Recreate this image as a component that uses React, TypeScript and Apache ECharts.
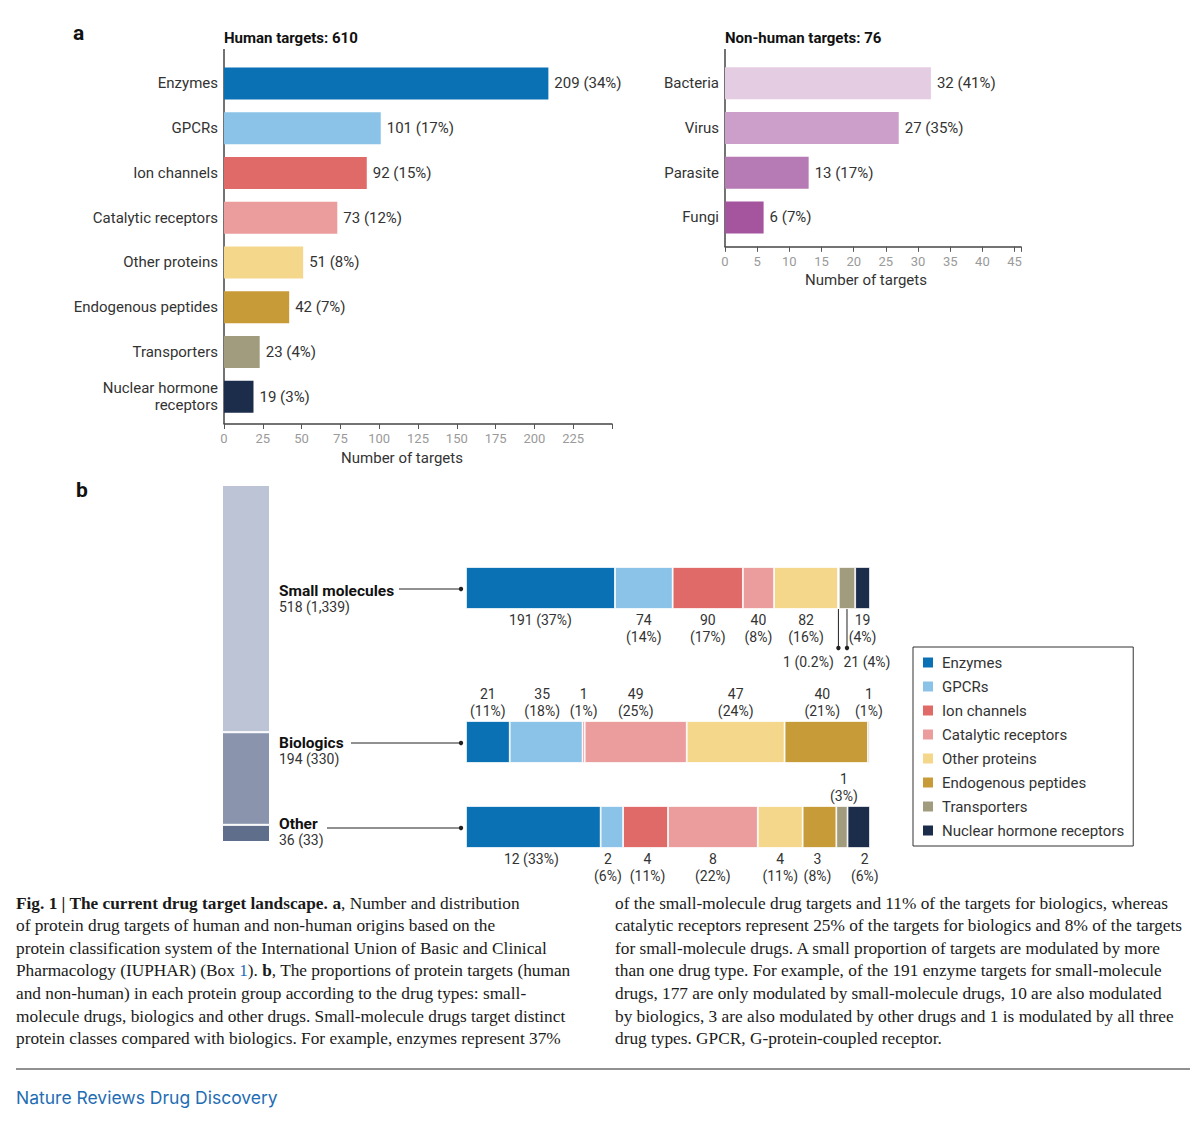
import React, { useEffect, useRef } from 'react';
import * as echarts from 'echarts';

// ---------- data ----------
const humanTotal = 610;
const humanCategories = ['Enzymes', 'GPCRs', 'Ion channels', 'Catalytic receptors', 'Other proteins', 'Endogenous peptides', 'Transporters', 'Nuclear hormone\nreceptors'];
const humanValues = [209, 101, 92, 73, 51, 42, 23, 19];
const humanPct = [34, 17, 15, 12, 8, 7, 4, 3];
const humanTickMax = 225;

const nonHumanTotal = 76;
const nonHumanCategories = ['Bacteria', 'Virus', 'Parasite', 'Fungi'];
const nonHumanValues = [32, 27, 13, 6];
const nonHumanPct = [41, 35, 17, 7];
const nonHumanTickMax = 45;

const proteinClasses = ['Enzymes', 'GPCRs', 'Ion channels', 'Catalytic receptors', 'Other proteins', 'Endogenous peptides', 'Transporters', 'Nuclear hormone receptors'];

const drugTypes = ['Small molecules', 'Biologics', 'Other'];
const drugTypeTargets = [518, 194, 36];
const drugTypeAll = [1339, 330, 33];

const smallValues = [191, 74, 90, 40, 82, 1, 21, 19];
const smallPct = [37, 14, 17, 8, 16, 0.2, 4, 4];
const bioValues = [21, 35, 1, 49, 47, 40, 1, 0];
const bioPct = [11, 18, 1, 25, 24, 21, 1, 0];
const otherValues = [12, 2, 4, 8, 4, 3, 1, 2];
const otherPct = [33, 6, 11, 22, 11, 8, 3, 6];

// ---------- styles ----------
const classColors = ['#0a71b4', '#8ac3e7', '#e06a68', '#eb9c9c', '#f4d78b', '#c89b39', '#a09c7d', '#1c2d4c'];
const nonHumanColors = ['#e4cce3', '#cc9fcb', '#b67ab4', '#a5549e'];
const columnColors = ['#bdc4d6', '#8a95ad', '#5f6e8b'];
const FONT = 'Roboto, "Noto Sans", sans-serif';
const SERIF = '"Liberation Serif", "DejaVu Serif", serif';
const INK = '#333';
const CAPTION_SIZE = 17.3;

// layout
const rowGrids = [
  { top: 567, height: 42 },
  { top: 721, height: 42 },
  { top: 806, height: 42 },
];
const rowLeft = 466;
const rowWidth = 404;
// label placement kinds per row: b1 = below single line, b2 = below two lines, a2 = above two lines, lead = leader line
const rowLabelKinds = [
  ['b1', 'b2', 'b2', 'b2', 'b2', 'lead', 'lead', 'b2'],
  ['a2', 'a2', 'a2', 'a2', 'a2', 'a2', 'a2', 'none'],
  ['b1', 'b2', 'b2', 'b2', 'b2', 'b2', 'a2', 'b2'],
];
const rowLabelShift = [
  [0, 0, 0, 0, 0, -30, 20, 0],
  [0, -4, 0, 0, 0, -4, 0, 0],
  [-2, -4, 2, 0, 0, -2, 2, 6],
];
const rowLabelY = [591, 743, 824];
const rowLineStart = [399, 351, 327];

const fmtPct = (p: number) => `${p}%`;

function buildOption() {
  const rows = [smallValues, bioValues, otherValues];
  const pcts = [smallPct, bioPct, otherPct];

  const grid: any[] = [
    { left: 224, top: 61, width: 388, height: 358 },
    { left: 725, top: 61, width: 296, height: 178.8 },
    { left: 222, top: 485, width: 48, height: 357 },
    ...rowGrids.map((g) => ({ left: rowLeft, top: g.top, width: rowWidth, height: g.height })),
  ];

  const valueAxisCommon = (gridIndex: number, max: number, interval: number, tickMax: number, offset: number, pad: number) => ({
    type: 'value',
    gridIndex,
    min: 0,
    max,
    interval,
    offset,
    splitLine: { show: false },
    axisLine: { show: true, lineStyle: { color: '#444', width: 1.5 } },
    axisTick: { show: true, length: 5, lineStyle: { color: '#555' } },
    axisLabel: {
      color: '#9a9a9a',
      fontSize: 13,
      fontFamily: FONT,
      margin: 8,
      formatter: (v: number) => (v > tickMax ? '' : String(v)),
    },
    name: 'Number of targets',
    nameLocation: 'middle',
    nameGap: 26,
    nameTextStyle: { color: INK, fontSize: 15, fontFamily: FONT, padding: [0, pad, 0, 0] },
  });

  const xAxis: any[] = [
    valueAxisCommon(0, 250, 25, humanTickMax, 5, 32),
    valueAxisCommon(1, 46, 5, nonHumanTickMax, 7, 14),
    { type: 'category', gridIndex: 2, data: ['all'], show: false },
    ...rows.map((r, i) => ({
      type: 'value',
      gridIndex: 3 + i,
      min: 0,
      max: r.reduce((a, b) => a + b, 0),
      show: false,
    })),
  ];

  const catAxisCommon = (gridIndex: number, data: string[]) => ({
    type: 'category',
    gridIndex,
    data,
    inverse: true,
    axisLine: { show: false },
    axisTick: { show: false },
    axisLabel: { color: INK, fontSize: 15, fontFamily: FONT, margin: 6, lineHeight: 17 },
  });

  const yAxis: any[] = [
    catAxisCommon(0, humanCategories),
    catAxisCommon(1, nonHumanCategories),
    { type: 'value', gridIndex: 2, min: 0, max: drugTypeTargets.reduce((a, b) => a + b, 0), show: false },
    ...rows.map((_, i) => ({ type: 'category', gridIndex: 3 + i, data: ['x'], show: false })),
  ];

  const series: any[] = [];
  series.push({
    type: 'bar',
    name: 'Human targets',
    xAxisIndex: 0,
    yAxisIndex: 0,
    barWidth: 32,
    data: humanValues.map((v, i) => ({ value: v, itemStyle: { color: classColors[i] } })),
    label: {
      show: true,
      position: 'right',
      distance: 6,
      color: INK,
      fontSize: 15,
      fontFamily: FONT,
      formatter: (p: any) => `${p.value} (${humanPct[p.dataIndex]}%)`,
    },
  });
  series.push({
    type: 'bar',
    name: 'Non-human targets',
    xAxisIndex: 1,
    yAxisIndex: 1,
    barWidth: 32,
    data: nonHumanValues.map((v, i) => ({ value: v, itemStyle: { color: nonHumanColors[i] } })),
    label: {
      show: true,
      position: 'right',
      distance: 6,
      color: INK,
      fontSize: 15,
      fontFamily: FONT,
      formatter: (p: any) => `${p.value} (${nonHumanPct[p.dataIndex]}%)`,
    },
  });
  // stacked column (bottom to top: Other, Biologics, Small molecules)
  for (let k = drugTypes.length - 1; k >= 0; k--) {
    series.push({
      type: 'bar',
      name: drugTypes[k],
      xAxisIndex: 2,
      yAxisIndex: 2,
      stack: 'column',
      barWidth: '100%',
      data: [drugTypeTargets[k]],
      itemStyle: { color: columnColors[k], borderColor: '#fff', borderWidth: 1 },
    });
  }
  // stacked rows
  rows.forEach((vals, r) => {
    vals.forEach((v, i) => {
      const kind = rowLabelKinds[r][i];
      const p = pcts[r][i];
      const shift = rowLabelShift[r][i];
      let label: any = { show: false };
      const base = { show: true, color: INK, fontSize: 14, fontFamily: FONT, lineHeight: 17, offset: [shift, 0] };
      if (kind === 'b1') label = { ...base, position: 'bottom', distance: 2, formatter: `${v} (${fmtPct(p)})` };
      else if (kind === 'b2') label = { ...base, position: 'bottom', distance: 2, formatter: `${v}\n(${fmtPct(p)})` };
      else if (kind === 'a2') label = { ...base, position: 'top', distance: 2, formatter: `${v}\n(${fmtPct(p)})` };
      else if (kind === 'lead') label = { ...base, position: 'bottom', distance: 44, formatter: `${v} (${fmtPct(p)})` };
      series.push({
        type: 'bar',
        name: proteinClasses[i],
        xAxisIndex: 3 + r,
        yAxisIndex: 3 + r,
        stack: 'row' + r,
        barWidth: '100%',
        data: [v],
        itemStyle: { color: classColors[i], borderColor: '#fff', borderWidth: 0.8 },
        label,
      });
    });
  });

  return {
    animation: false,
    backgroundColor: '#fff',
    textStyle: { fontFamily: FONT },
    grid,
    xAxis,
    yAxis,
    series,
    legend: {
      data: proteinClasses,
      orient: 'vertical',
      left: 913,
      top: 647,
      icon: 'rect',
      itemWidth: 12,
      itemHeight: 12,
      itemGap: 9,
      padding: [8, 9, 8, 8],
      borderColor: '#333',
      borderWidth: 1,
      borderRadius: 0,
      selectedMode: false,
      textStyle: { color: INK, fontSize: 15, fontFamily: FONT, padding: [0, 0, 0, 3] },
    },
  };
}

const captionLeft = [
  '{b|Fig. 1 | The current drug target landscape.} {b|a}, Number and distribution',
  'of protein drug targets of human and non-human origins based on the',
  'protein classification system of the International Union of Basic and Clinical',
  'Pharmacology (IUPHAR) (Box {blue|1}). {b|b}, The proportions of protein targets (human',
  'and non-human) in each protein group according to the drug types: small-',
  'molecule drugs, biologics and other drugs. Small-molecule drugs target distinct',
  'protein classes compared with biologics. For example, enzymes represent 37%',
];
const captionRight = [
  'of the small-molecule drug targets and 11% of the targets for biologics, whereas',
  'catalytic receptors represent 25% of the targets for biologics and 8% of the targets',
  'for small-molecule drugs. A small proportion of targets are modulated by more',
  'than one drug type. For example, of the 191 enzyme targets for small-molecule',
  'drugs, 177 are only modulated by small-molecule drugs, 10 are also modulated',
  'by biologics, 3 are also modulated by other drugs and 1 is modulated by all three',
  'drug types. GPCR, G-protein-coupled receptor.',
];

function txt(x: number, y: number, text: string, opts: any = {}) {
  return {
    type: 'text',
    silent: true,
    style: {
      x,
      y,
      text,
      fill: opts.fill || INK,
      fontSize: opts.fontSize || 15,
      fontFamily: opts.fontFamily || FONT,
      fontWeight: opts.fontWeight || 'normal',
      align: opts.align || 'left',
      verticalAlign: 'middle',
      rich: opts.rich,
    },
  };
}

function buildGraphics(chart: any) {
  const g: any[] = [];
  // panel letters and titles
  g.push(txt(73, 33, 'a', { fontSize: 21, fontWeight: 'bold', fill: '#111' }));
  g.push(txt(76, 490, 'b', { fontSize: 21, fontWeight: 'bold', fill: '#111' }));
  g.push(txt(224, 38, `Human targets: ${humanTotal}`, { fontSize: 15, fontWeight: 'bold', fill: '#111' }));
  g.push(txt(725, 38, `Non-human targets: ${nonHumanTotal}`, { fontSize: 15, fontWeight: 'bold', fill: '#111' }));
  // vertical axis lines
  g.push({ type: 'line', silent: true, shape: { x1: 224, y1: 49, x2: 224, y2: 424 }, style: { stroke: '#444', lineWidth: 1.5 } });
  g.push({ type: 'line', silent: true, shape: { x1: 725, y1: 49, x2: 725, y2: 247 }, style: { stroke: '#444', lineWidth: 1.5 } });

  // row labels for panel b
  drugTypes.forEach((name, i) => {
    const cy = rowGrids[i].top + rowGrids[i].height / 2;
    g.push(txt(279, rowLabelY[i], name, { fontSize: 15.5, fontWeight: 'bold', fill: '#111' }));
    g.push(txt(279, rowLabelY[i] + 16, `${drugTypeTargets[i].toLocaleString('en-US')} (${drugTypeAll[i].toLocaleString('en-US')})`, { fontSize: 14 }));
    g.push({ type: 'line', silent: true, shape: { x1: rowLineStart[i], y1: cy + 1, x2: rowLeft - 5, y2: cy + 1 }, style: { stroke: '#222', lineWidth: 1 } });
    g.push({ type: 'circle', silent: true, shape: { cx: rowLeft - 5, cy: cy + 1, r: 2.2 }, style: { fill: '#222' } });
  });

  // leader lines for small segments of first row
  let cum = 0;
  smallValues.forEach((v, i) => {
    if (rowLabelKinds[0][i] === 'lead') {
      const px = chart.convertToPixel({ xAxisIndex: 3 }, cum + v / 2);
      const y1 = rowGrids[0].top + rowGrids[0].height;
      g.push({ type: 'line', silent: true, shape: { x1: px, y1, x2: px, y2: y1 + 39 }, style: { stroke: '#222', lineWidth: 1 } });
      g.push({ type: 'circle', silent: true, shape: { cx: px, cy: y1 + 39, r: 2.2 }, style: { fill: '#222' } });
    }
    cum += v;
  });

  // caption
  const rich = {
    b: { fontWeight: 'bold', fontSize: CAPTION_SIZE, fontFamily: SERIF, fill: '#1a1a1a' },
    blue: { fontSize: CAPTION_SIZE, fontFamily: SERIF, fill: '#1f6db3' },
  };
  captionLeft.forEach((line, i) => {
    g.push(txt(16, 903 + i * 22.6, line, { fontSize: CAPTION_SIZE, fontFamily: SERIF, fill: '#1a1a1a', rich }));
  });
  captionRight.forEach((line, i) => {
    g.push(txt(615, 903 + i * 22.6, line, { fontSize: CAPTION_SIZE, fontFamily: SERIF, fill: '#1a1a1a', rich }));
  });

  // footer
  g.push({ type: 'line', silent: true, shape: { x1: 16, y1: 1069, x2: 1190, y2: 1069 }, style: { stroke: '#222', lineWidth: 1 } });
  g.push(txt(16, 1097, 'Nature Reviews Drug Discovery', { fontSize: 17.5, fontFamily: 'Inter, Roboto, sans-serif', fill: '#1f6db3' }));
  return g;
}

export default function App() {
  const ref = useRef<HTMLDivElement>(null);
  useEffect(() => {
    const el = ref.current;
    if (!el) return;
    const chart = echarts.init(el, null, { renderer: 'svg' });
    chart.setOption(buildOption() as any);
    chart.setOption({ graphic: buildGraphics(chart) } as any);
    return () => chart.dispose();
  }, []);
  return (
    <div
      ref={ref}
      style={{ position: 'absolute', left: 0, top: 0, width: 1200, height: 1125, background: '#fff' }}
    />
  );
}
